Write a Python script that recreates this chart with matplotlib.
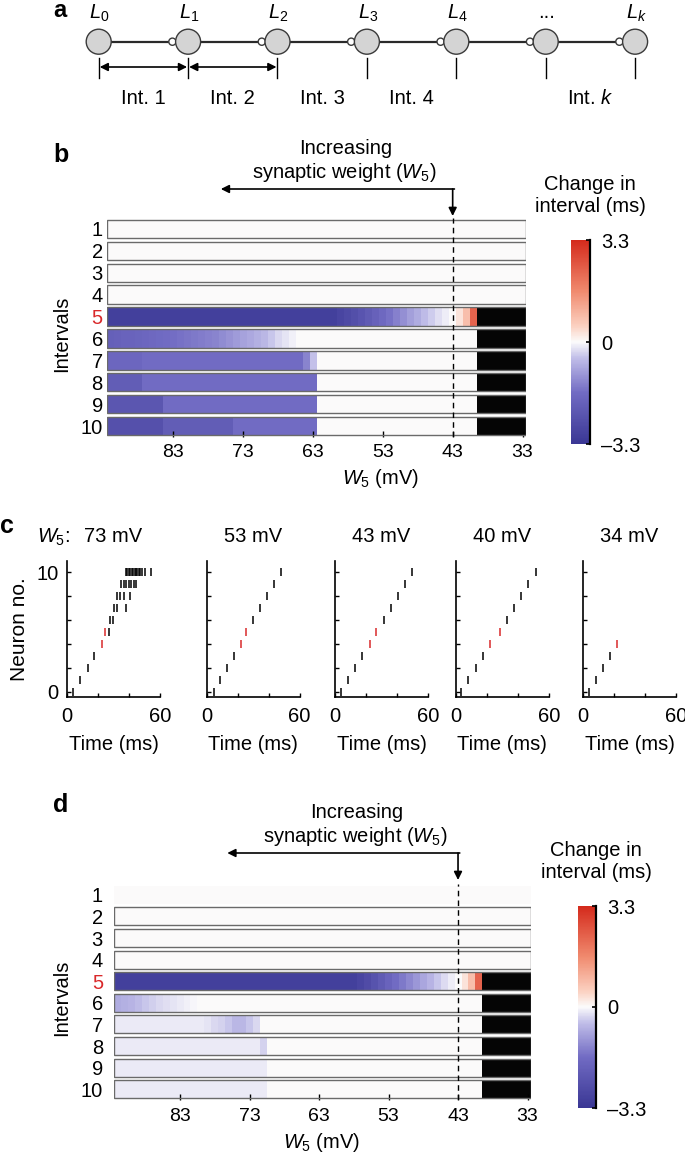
import numpy as np
import matplotlib
matplotlib.use('Agg')
import matplotlib.pyplot as plt
import matplotlib.transforms as mtransforms
from matplotlib.colors import LinearSegmentedColormap, Normalize
from matplotlib.cm import ScalarMappable
from matplotlib.patches import Circle, Rectangle

plt.rcParams['font.family'] = ['Liberation Sans', 'DejaVu Sans']
plt.rcParams['mathtext.fontset'] = 'custom'
plt.rcParams['mathtext.rm'] = 'Liberation Sans'
plt.rcParams['mathtext.it'] = 'Liberation Sans:italic'
plt.rcParams['font.size'] = 14.5

nan = np.nan

# ---- panel a: chain schematic
neuron_labels = ['$L_0$', '$L_1$', '$L_2$', '$L_3$', '$L_4$', '...', '$L_k$']
interval_labels = ['Int. 1', 'Int. 2', 'Int. 3', 'Int. 4', '', 'Int. $k$']

# ---- panels b, d: change in interval (ms) vs W5, one list per interval
w5 = list(range(92, 32, -1))          # column centres (mV)
w5_ticks = [83, 73, 63, 53, 43, 33]
w5_marked = 43
row_labels = [str(i) for i in range(1, 11)]
red_row = 5

b_rows = [
    [0.0] * 60,
    [0.0] * 60,
    [0.0] * 60,
    [0.0] * 60,
    [-3.0] * 33 + [-2.85, -2.7, -2.55, -2.35, -2.15, -1.95, -1.75, -1.55, -1.35, -1.15, -0.95,
                   -0.75, -0.55, -0.4, -0.25, -0.12] + [0.0, 0.3, 0.8, 2.3] + [nan] * 7,
    [-2.0, -1.95, -1.9, -1.9, -1.85, -1.8, -1.75, -1.7, -1.65, -1.6,
     -1.55, -1.5, -1.45, -1.4, -1.35, -1.3, -1.2, -1.1, -1.0, -0.9, -0.8, -0.7, -0.6,
     -0.45, -0.3, -0.2, -0.1] + [0.0] * 26 + [nan] * 7,
    [-1.8] * 5 + [-1.65] * 23 + [-1.3, -0.5] + [0.0] * 23 + [nan] * 7,
    [-2.1] * 5 + [-1.65] * 25 + [0.0] * 23 + [nan] * 7,
    [-2.3] * 8 + [-1.65] * 22 + [0.0] * 23 + [nan] * 7,
    [-2.5] * 8 + [-2.1] * 10 + [-1.65] * 12 + [0.0] * 23 + [nan] * 7,
]
b_boxed = [True] * 10

d_rows = [
    [0.0] * 60,
    [0.0] * 60,
    [0.0] * 60,
    [0.0] * 60,
    [-3.0] * 35 + [-2.85, -2.65, -2.4, -2.15, -1.9, -1.65, -1.45, -1.25, -1.05, -0.85, -0.65,
                   -0.45, -0.28, -0.12] + [0.0, 0.3, 0.8, 2.3] + [nan] * 7,
    [-0.75, -0.7, -0.65, -0.55, -0.45, -0.38, -0.3, -0.25, -0.2, -0.15, -0.1, -0.05]
    + [0.0] * 41 + [nan] * 7,
    [-0.15] * 13 + [-0.2, -0.3, -0.35, -0.45, -0.6, -0.6, -0.45, -0.3] + [0.0] * 32 + [nan] * 7,
    [-0.15] * 21 + [-0.35] + [0.0] * 31 + [nan] * 7,
    [-0.15] * 22 + [0.0] * 31 + [nan] * 7,
    [-0.15] * 22 + [0.0] * 31 + [nan] * 7,
]
d_boxed = [False] + [True] * 9

# ---- panel c: spike times (ms) per neuron 0..10
raster_titles = ['73 mV', '53 mV', '43 mV', '40 mV', '34 mV']
rasters = [
    [[3.7], [8.5], [13.3], [17.7], [22.3], [24.2, 27.2], [27.5, 29.4],
     [30.2, 32.1, 37.9], [32.4, 34.4, 36.9, 40.4],
     [35.0, 36.6, 38.2, 39.8, 41.4, 43.0, 44.7],
     [38.0, 39.0, 40.0, 40.9, 41.8, 42.7, 43.6, 44.5, 45.4, 46.3, 47.2, 48.3, 50.0, 54.5]],
    [[4.5], [8.8], [13.4], [17.9], [22.5], [25.6], [30.1], [34.7], [39.2], [43.8], [48.3]],
    [[4.0], [8.5], [13.1], [17.6], [22.5], [26.7], [31.3], [36.1], [40.7], [45.2], [49.8]],
    [[3.7], [8.2], [12.8], [17.3], [21.9], [28.7], [33.3], [37.8], [42.4], [46.9], [51.5]],
    [[3.7], [8.2], [12.8], [17.3], [21.9]],
]
red_neurons = [4, 5]   # first spikes bounding interval 5

RED = '#d9292b'
cmap = LinearSegmentedColormap.from_list('chg', [
    (0.0, '#3a3794'), (0.25, '#716bc3'), (0.42, '#c0bde8'), (0.5, '#fbfbfb'),
    (0.58, '#fbd0c0'), (0.75, '#f08a6e'), (1.0, '#d42a1c')])
cmap.set_bad('#050505')
norm = Normalize(-3.3, 3.3)

W, H = 685, 1160
fig = plt.figure(figsize=(W / 100, H / 100), dpi=100)


def box(l, t, r, b):
    return fig.add_axes([l / W, 1 - b / H, (r - l) / W, (b - t) / H])


def ftext(x, y, s, **kw):
    kw.setdefault('ha', 'center')
    kw.setdefault('va', 'center')
    return fig.text(x / W, 1 - y / H, s, **kw)


# ================= a
ax = box(0, 0, W, 140)
ax.set_xlim(0, W)
ax.set_ylim(140, 0)
ax.axis('off')
xs = 98.7 + 89.4 * np.arange(len(neuron_labels))
yc, R = 41.7, 12.5
ax.plot([xs[0], xs[-1]], [yc, yc], color='#2a2a2a', lw=1.6, zorder=1)
for i, x in enumerate(xs):
    ax.add_patch(Circle((x, yc), R, fc='#d4d4d4', ec='#3a3a3a', lw=1, zorder=3))
    if i > 0:
        ax.add_patch(Circle((x - R - 3.2, yc), 3.6, fc='white', ec='#3a3a3a', lw=1, zorder=2))
    ax.text(x + 1, 18.5, neuron_labels[i], ha='center', va='baseline')
    ax.plot([x, x], [58, 78], color='k', lw=1)
for i, lab in enumerate(interval_labels):
    if lab:
        ax.text((xs[i] + xs[i + 1]) / 2, 98, lab, ha='center', va='center')
for i in range(2):
    ax.annotate('', xy=(xs[i + 1] - 1, 67), xytext=(xs[i] + 1, 67),
                arrowprops=dict(arrowstyle='<|-|>', color='k', lw=1.2,
                                mutation_scale=12, shrinkA=0, shrinkB=0))
ftext(53, 17, 'a', fontsize=17, fontweight='bold', ha='left', va='baseline')


# ================= b, d
def heatmap(rows, boxed, ax_px, cb_px, pad_y, pad_x, arrow_y, arrow_end, label_x, txt_y, txt_x):
    l, t, r, b = ax_px
    ax = box(*ax_px)
    edges = np.append(np.array(w5) + 0.5, w5[-1] - 0.5)
    hh = 0.42
    for i, (vals, bx) in enumerate(zip(rows, boxed)):
        rr = i + 1
        ax.pcolormesh(edges, [rr - hh, rr + hh], np.ma.masked_invalid([vals]),
                      cmap=cmap, norm=norm, shading='flat', antialiased=False)
        if bx:
            ax.add_patch(Rectangle((edges[0], rr - hh), edges[-1] - edges[0], 2 * hh,
                                   fill=False, ec='#6a6a6a', lw=1.0, zorder=3))
    ax.set_xlim(edges[0], edges[-1])
    ax.set_ylim(10.5, 0.5)
    for s in ax.spines.values():
        s.set_visible(False)
    ax.set_xticks(w5_ticks)
    ax.tick_params(axis='x', direction='in', length=4, width=1, pad=pad_x, labelsize=14)
    ax.set_yticks(range(1, 11))
    ax.set_yticklabels(row_labels)
    ax.tick_params(axis='y', length=0, pad=pad_y, labelsize=14.5)
    ax.get_yticklabels()[red_row - 1].set_color(RED)
    ax.axvline(w5_marked, color='k', lw=1, ls=(0, (4, 3)), zorder=4)

    tr = mtransforms.blended_transform_factory(ax.transData, ax.transAxes)
    ya = (b - arrow_y) / (b - t)
    ye = (b - arrow_end) / (b - t)
    ax.annotate('', xy=(76.2, ya), xytext=(w5_marked - 0.25, ya), xycoords=tr, textcoords=tr,
                arrowprops=dict(arrowstyle='-|>', color='k', lw=1.2, mutation_scale=12,
                                shrinkA=0, shrinkB=0), annotation_clip=False)
    ax.annotate('', xy=(w5_marked, ye), xytext=(w5_marked, ya), xycoords=tr, textcoords=tr,
                arrowprops=dict(arrowstyle='-|>', color='k', lw=1.2, mutation_scale=12,
                                shrinkA=0, shrinkB=0), annotation_clip=False)
    ftext(txt_x, txt_y[0], 'Increasing')
    ftext(txt_x - 2, txt_y[1], 'synaptic weight ($W_5$)')
    ftext(label_x, b + 42, '$W_5$ (mV)')
    ftext(62, (t + b) / 2 + 6, 'Intervals', rotation=90)

    cax = box(*cb_px)
    cb = fig.colorbar(ScalarMappable(norm=norm, cmap=cmap), cax=cax)
    cb.outline.set_visible(False)
    cb.set_ticks([-3.3, 0, 3.3])
    cb.set_ticklabels(['\u20133.3', '0', '3.3'])
    cax.tick_params(direction='in', length=3, width=1.2, pad=8, labelsize=14.5)
    cax.plot([1, 1], [-3.3, 3.3], color='k', lw=1.6, clip_on=False)
    cl, ct, cr, cbt = cb_px
    ftext(cr, ct - 56, 'Change in')
    ftext(cr, ct - 33, 'interval (ms)')
    return ax


heatmap(b_rows, b_boxed, (107, 218, 526, 437), (571, 240, 590, 444), 3, 5,
        189, 216, 381, (148, 172), 346)
ftext(53, 162, 'b', fontsize=18, fontweight='bold', ha='left', va='baseline')

heatmap(d_rows, d_boxed, (114, 884, 531, 1100), (578, 906, 596, 1108), 8, 6,
        853, 880, 322, (812, 836), 357)
ftext(53, 812, 'd', fontsize=18, fontweight='bold', ha='left', va='baseline')

# ================= c
c_lefts = [67, 206.6, 335, 455.7, 583]
for k, (title, spikes) in enumerate(zip(raster_titles, rasters)):
    l = c_lefts[k]
    ax = box(l, 561, l + 93, 697)
    for n, times in enumerate(spikes):
        for j, t in enumerate(times):
            col = RED if (n in red_neurons and j == 0) else 'k'
            ax.vlines(t, n - 0.37, n + 0.37, color=col, lw=1.1)
    ax.set_xlim(0, 60)
    ax.set_ylim(-0.42, 10.92)
    ax.spines['top'].set_visible(False)
    ax.spines['right'].set_visible(False)
    for s in ('left', 'bottom'):
        ax.spines[s].set_linewidth(1.2)
    ax.set_xticks([0, 20, 40, 60])
    ax.set_xticklabels(['0', '', '', '60'])
    ax.set_yticks([0, 2, 4, 6, 8, 10])
    ax.set_yticklabels(['0', '', '', '', '', '10'] if k == 0 else [''] * 6)
    ax.tick_params(direction='in', length=3, width=1, labelsize=14.5)
    ax.tick_params(axis='x', pad=7)
    ax.tick_params(axis='y', pad=6)
    ftext(l + 46.5, 537, title)
    ftext(l + 46.5, 745, 'Time (ms)')
ftext(37, 537, '$W_5$:', ha='left')
ftext(20, 629, 'Neuron no.', rotation=90, fontsize=15)
ftext(0, 533, 'c', fontsize=18, fontweight='bold', ha='left', va='baseline')

fig.savefig('out.png', dpi=100)
